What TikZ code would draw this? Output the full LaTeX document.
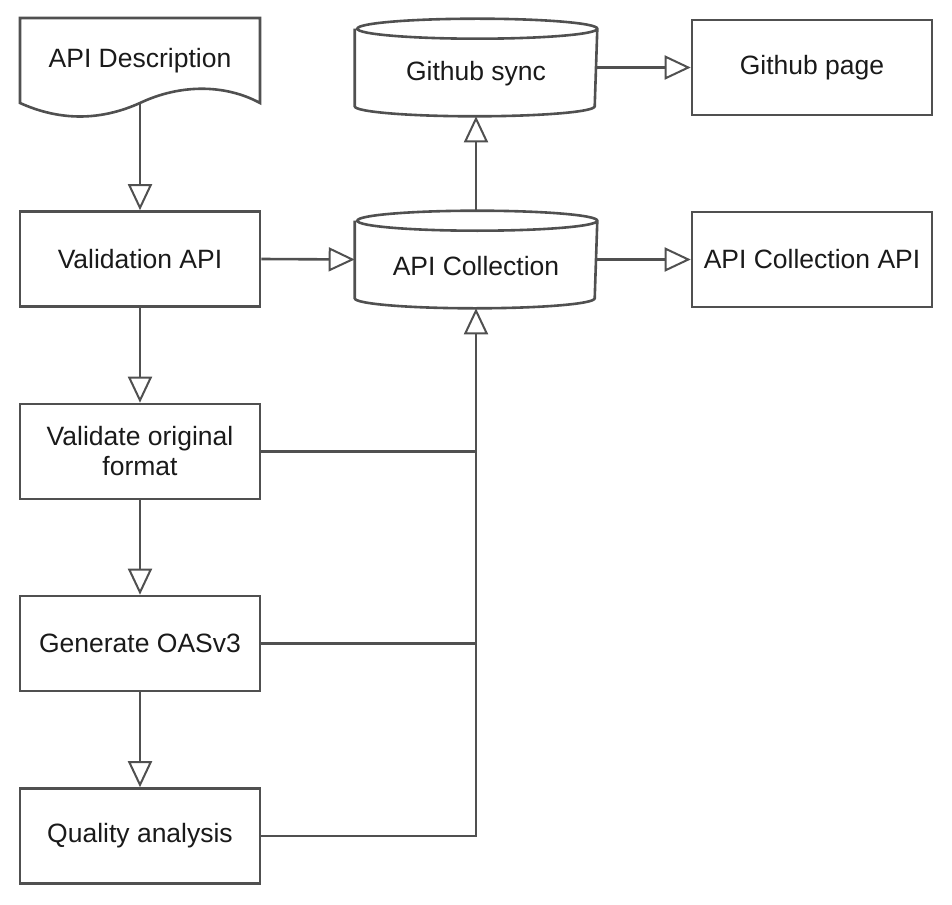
\documentclass[tikz,border=0pt]{standalone}
\usepackage{fontspec}
\setmainfont{Liberation Sans}
\usetikzlibrary{arrows.meta}
\definecolor{edge}{HTML}{505050}
\definecolor{ink}{HTML}{1A1A1A}
\tikzset{
  txt/.style={text=ink,font=\fontsize{26.5}{30}\selectfont},
  box/.style={draw=edge,line width=2.6pt,minimum width=240pt,minimum height=95pt,align=center,txt},
  store/.style={box,draw=none},
  link/.style={draw=edge,line width=2.6pt},
  flow/.style={link,-{Triangle[open,length=26pt,width=24pt,line width=2pt]}}
}
\begin{document}
\begin{tikzpicture}[x=1pt,y=1pt]
            \useasboundingbox (0,0) rectangle (952,-904);

            \node[store,minimum height=84pt] (desc) at (140,-60.5) {API Description};
            \draw[link] (20,-103) -- (20,-18) -- (260,-18) -- (260,-103)
              .. controls (225,-84) and (180,-84) .. (140,-103)
              .. controls (100,-121) and (60,-121) .. (20,-103) -- cycle;

            \node[box] (val) at (140,-259) {Validation API};
            \node[box] (orig) at (140,-451.5) {Validate original\\format};
            \node[box] (gen) at (140,-643.5) {Generate OASv3};
            \node[box] (qual) at (140,-836) {Quality analysis};

            \node[store,label={[txt,yshift=-6pt]center:Github sync}] (sync) at (476,-67.5) {};
            \node[store,label={[txt,yshift=-6.5pt]center:API Collection}] (coll) at (476,-259.5) {};
            \foreach \c in {sync,coll}
              \draw[link] ([yshift=-10pt]\c.north west) -- ([yshift=10pt]\c.south west)
                arc[start angle=180,end angle=360,x radius=120pt,y radius=10pt]
                -- ([yshift=-10pt]\c.north east)
                arc[start angle=0,end angle=360,x radius=120pt,y radius=10pt];

            \node[box] (page) at (812,-67.5) {Github page};
            \node[box] (capi) at (812,-259.5) {API Collection API};

            \draw[flow] (desc.south) -- (val.north);
            \draw[flow] (val.south) -- (orig.north);
            \draw[flow] (orig.south) -- (gen.north);
            \draw[flow] (gen.south) -- (qual.north);
            \draw[flow] (val.east) -- (coll.west);
            \draw[flow] (coll.north) -- (sync.south);
            \draw[flow] (sync.east) -- (page.west);
            \draw[flow] (coll.east) -- (capi.west);

            \draw[flow] (qual.east) -| (coll.south);
            \draw[link] (orig.east) -- (orig.east -| coll.south);
            \draw[link] (gen.east) -- (gen.east -| coll.south);

        \end{tikzpicture}
\end{document}
